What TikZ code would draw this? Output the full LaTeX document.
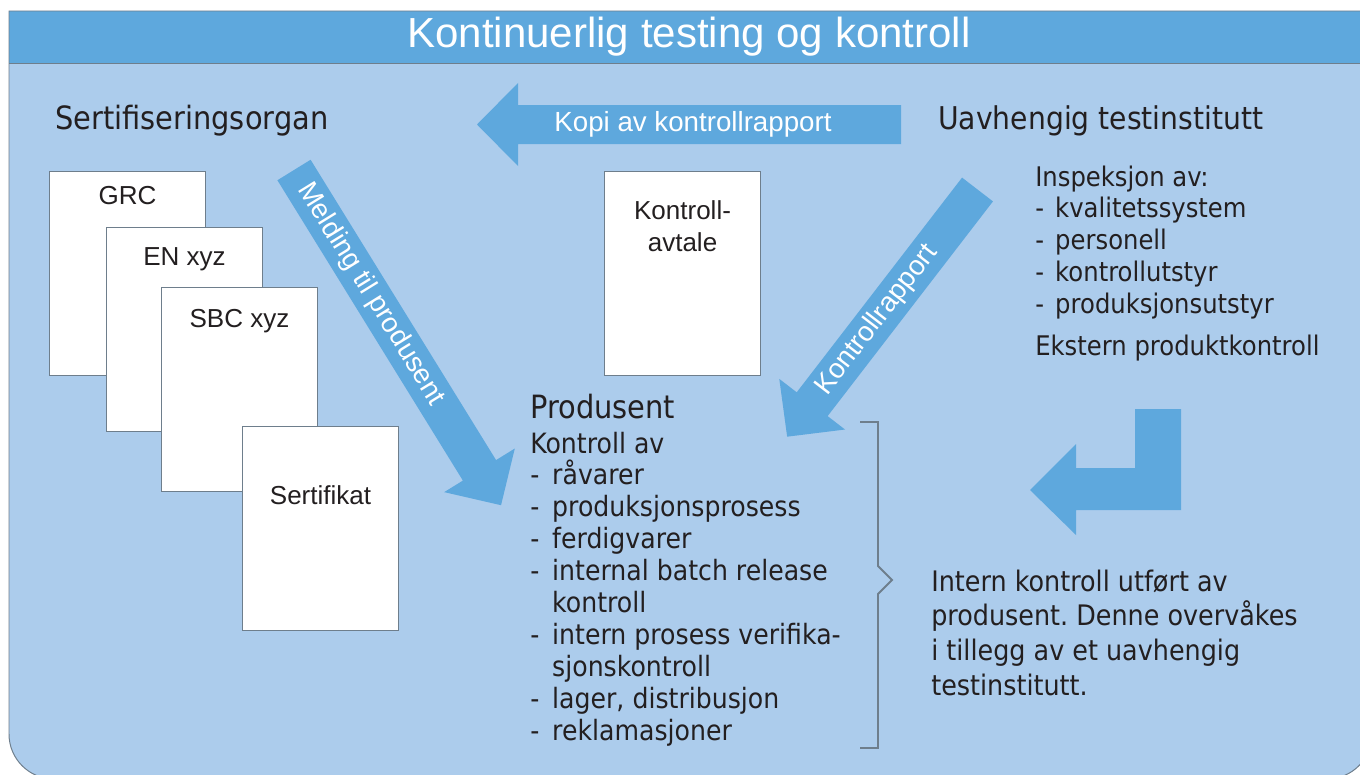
\documentclass[tikz,border=0pt]{standalone}
\usepackage{fontspec}
\setmainfont{Liberation Sans}
\newfontfamily\bodyfont[FakeStretch=0.9]{DejaVu Sans}
\usetikzlibrary{calc}
\frenchspacing

\definecolor{headblue}{RGB}{94,168,221}
\definecolor{bodyblue}{RGB}{172,204,236}
\definecolor{framegray}{RGB}{110,126,140}
\definecolor{inkgray}{RGB}{35,31,32}

\newcommand{\blockarrow}[1]{%
	\fill[headblue] (0,-19.5) -- ({#1-41},-19.5) -- ({#1-41},-41.5) -- (#1,0)
		-- ({#1-41},41.5) -- ({#1-41},19.5) -- (0,19.5) -- cycle;}
\newcommand{\itemdash}[1][15.6pt]{\makebox[#1][l]{-}}

\tikzset{
	docbox/.style={draw=framegray, line width=0.7pt, fill=white, minimum width=3.9cm, minimum height=5.1cm, inner sep=0pt, anchor=north west},
	doclabel/.style={text=inkgray, font=\fontsize{18.5}{22.8}\selectfont, inner sep=0pt},
	arrowtext/.style={text=white, font=\fontsize{19.7}{23}\selectfont, inner sep=0pt},
	headtext/.style={text=inkgray, font=\bodyfont\fontsize{22.8}{27}\selectfont, anchor=base west, inner sep=0pt},
	listtext/.style={text=inkgray, font=\bodyfont\fontsize{19.9}{22.8}\selectfont, anchor=base west, inner sep=0pt},
	insptext/.style={text=inkgray, font=\bodyfont\fontsize{19.2}{22.6}\selectfont, anchor=base west, inner sep=0pt},
	notetext/.style={text=inkgray, font=\bodyfont\fontsize{20.1}{24.7}\selectfont, anchor=base west, inner sep=0pt},
	bracket/.style={draw=framegray, line width=1.4pt}
}

\begin{document}
\begin{tikzpicture}[x=0.025cm, y=-0.025cm]

	\useasboundingbox (0,0) rectangle (1360,775);

	% draw frame and title band
	\fill[bodyblue] (9,11) -- (9,300) [rounded corners=1.125cm] -- (9,779) -- (1372,779) -- (1372,300) [sharp corners] -- (1372,11) -- cycle;
	\fill[headblue] (9,11) rectangle (1372,63);
	\draw[framegray, line width=0.7pt] (9,11) -- (9,300) [rounded corners=1.125cm] -- (9,779) -- (1372,779) -- (1372,300) [sharp corners] -- (1372,11) -- cycle;
	\draw[framegray, line width=0.7pt] (9,63) -- (1372,63);
	\node[text=white, font=\fontsize{29.9}{36}\selectfont, anchor=base, inner sep=0pt] (title) at (689,48) {Kontinuerlig testing og kontroll};

	% draw headings
	\node[headtext] (sertorgan) at (55,130) {Sertifiseringsorgan};
	\node[headtext, font=\bodyfont\fontsize{22.3}{27}\selectfont] (testinst) at (938,130) {Uavhengig testinstitutt};
	\node[headtext] (produsent) at (530,418) {Produsent};

	% draw documents
	\foreach \name/\x/\y/\off/\txt in {grc/49/171/33/GRC, en/106/227/38/EN xyz, sbc/161/287/40/SBC xyz, sert/242/426/78/Sertifikat}
	{
		\node[docbox] (\name) at (\x,\y) {};
		\node[doclabel, anchor=base] (\name_txt) at ($(\name.north)+(0,\off)$) {\txt};
	}
	\node[docbox] (avtale) at (604,171) {};
	\node[doclabel, align=center, anchor=north] (avtale_txt) at ($(avtale.north)+(0,29.4)$) {Kontroll-\\avtale};

	% draw arrows
	\begin{scope}[shift={(294,170)}, rotate=-58.3]
		\blockarrow{394}
		\node[arrowtext, transform shape] (melding) at (146,0) {Melding til produsent};
	\end{scope}
	\begin{scope}[shift={(901,124.5)}, rotate=180]
		\blockarrow{424}
		\node[arrowtext, transform shape, rotate=180] (kopi) at (208,0) {Kopi av kontrollrapport};
	\end{scope}
	\begin{scope}[shift={(977.5,189.5)}, rotate=-127.6]
		\blockarrow{312}
		\node[arrowtext, transform shape, rotate=180] (rapport) at (165,0) {Kontrollrapport};
	\end{scope}
	\fill[headblue] (1135,409) -- (1181,409) -- (1181,510) -- (1076,510) -- (1076,535) -- (1030,490) -- (1076,444) -- (1076,468) -- (1135,468) -- cycle;

	% draw inspection list
	\foreach \txt [count=\i from 0] in {Inspeksjon av:, \itemdash[14.2pt]kvalitetssystem, \itemdash[14.2pt]personell, \itemdash[14.2pt]kontrollutstyr, \itemdash[14.2pt]produksjonsutstyr}
	{
		\node[insptext] (insp_\i) at (1035,{186+31.75*\i}) {\txt};
	}
	\node[insptext] (ekstern) at (1035,355) {Ekstern produktkontroll};

	% draw producer list
	\foreach \txt [count=\i from 0] in {Kontroll av, \itemdash råvarer, \itemdash produksjonsprosess, \itemdash ferdigvarer, \itemdash internal batch release, \hspace*{15.6pt}kontroll, \itemdash intern prosess verifika-, \hspace*{15.6pt}sjonskontroll, {\itemdash lager, distribusjon}, \itemdash reklamasjoner}
	{
		\node[listtext] (kontroll_\i) at (530,{453+31.9*\i}) {\txt};
	}

	% draw bracket and note
	\draw[bracket] (860,422) -- (878,422) -- (878,566) -- (892,580) -- (878,594) -- (878,748) -- (860,748);
	\foreach \txt [count=\i from 0] in {Intern kontroll utført av, produsent. Denne overvåkes, i tillegg av et uavhengig, testinstitutt.}
	{
		\node[notetext] (note_\i) at (931,{591+34.7*\i}) {\txt};
	}

\end{tikzpicture}
\end{document}
